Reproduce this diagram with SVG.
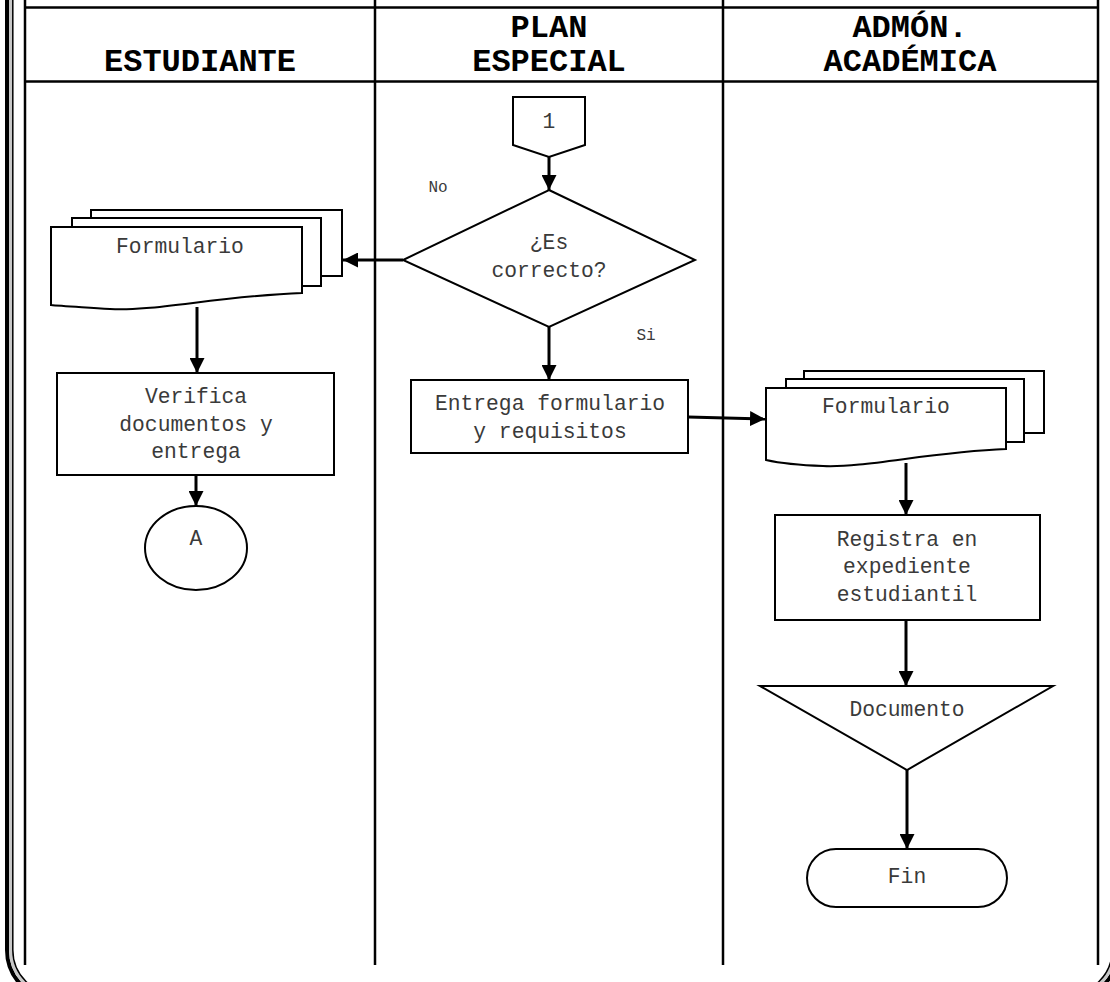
<svg xmlns="http://www.w3.org/2000/svg" width="1110" height="982" viewBox="0 0 1110 982">
  <style>
    .lane { stroke: #000; stroke-width: 2.5; fill: none; }
    .shape { stroke: #000; stroke-width: 2; fill: #fff; }
    .edge { stroke: #000; stroke-width: 3; fill: none; }
    .hdr { font-family: "Liberation Mono", "Courier New", monospace; font-weight: bold; font-size: 32px; fill: #000; text-anchor: middle; }
    .lbl { font-family: "Liberation Mono", "Courier New", monospace; font-size: 21.3px; fill: #3a3a3a; text-anchor: middle; }
    .small { font-family: "Liberation Mono", "Courier New", monospace; font-size: 16px; fill: #3a3a3a; text-anchor: middle; }
  </style>
  <defs>
    <marker id="arrow" viewBox="0 0 10 10" refX="10" refY="5" markerWidth="5" markerHeight="5" markerUnits="strokeWidth" orient="auto">
      <path d="M0,0 L10,5 L0,10 Z" fill="#000"/>
    </marker>
  </defs>

  <rect width="1110" height="982" fill="#fff"/>

  <!-- page frame: thick-thin rounded border -->
  <g id="frame" fill="none">
    <path d="M7,-20 V950 A50,50 0 0 0 57,1000 H1068 A50,50 0 0 0 1118,950 V-20" stroke="#000" stroke-width="4"/>
    <path d="M10.5,-20 V950 A46.5,46.5 0 0 0 57,996.5 H1068 A46.5,46.5 0 0 0 1114.5,950 V-20" stroke="#c8c8c8" stroke-width="3"/>
    <path d="M12.8,-20 V950 A44.2,44.2 0 0 0 57,994.2 H1068 A44.2,44.2 0 0 0 1112.2,950 V-20" stroke="#000" stroke-width="1.5"/>
  </g>

  <!-- swimlane grid -->
  <g id="lanes">
    <line class="lane" x1="25" y1="0" x2="25" y2="965"/>
    <line class="lane" x1="375" y1="0" x2="375" y2="965"/>
    <line class="lane" x1="723" y1="0" x2="723" y2="965"/>
    <line class="lane" x1="1098" y1="0" x2="1098" y2="965"/>
    <line class="lane" x1="25" y1="7.5" x2="1098" y2="7.5"/>
    <line class="lane" x1="25" y1="81.5" x2="1098" y2="81.5"/>
    <text class="hdr" x="200" y="71">ESTUDIANTE</text>
    <text class="hdr" x="549" y="37">PLAN</text>
    <text class="hdr" x="549" y="71">ESPECIAL</text>
    <text class="hdr" x="910" y="37">ADMÓN.</text>
    <text class="hdr" x="910" y="71">ACADÉMICA</text>
  </g>

  <!-- connectors -->
  <g id="connectors">
    <line class="edge" x1="549" y1="157" x2="549" y2="190" marker-end="url(#arrow)"/>
    <line class="edge" x1="403" y1="260" x2="343" y2="260" marker-end="url(#arrow)"/>
    <line class="edge" x1="549" y1="327" x2="549" y2="380" marker-end="url(#arrow)"/>
    <line class="edge" x1="688" y1="417" x2="765" y2="419" marker-end="url(#arrow)"/>
    <line class="edge" x1="197" y1="307" x2="197" y2="373" marker-end="url(#arrow)"/>
    <line class="edge" x1="196" y1="475" x2="196" y2="506" marker-end="url(#arrow)"/>
    <line class="edge" x1="906" y1="463" x2="906" y2="515" marker-end="url(#arrow)"/>
    <line class="edge" x1="906" y1="620" x2="906" y2="686" marker-end="url(#arrow)"/>
    <line class="edge" x1="907" y1="770" x2="907" y2="849" marker-end="url(#arrow)"/>
    <text class="small" x="438" y="192">No</text>
    <text class="small" x="646" y="340">Si</text>
  </g>

  <g id="n-connector-1">
    <path class="shape" d="M513,97 L585,97 L585,145 L549,157 L513,145 Z"/>
    <text class="lbl" x="549" y="128">1</text>
  </g>

  <g id="n-decision">
    <path class="shape" d="M549,190 L695,260 L549,327 L403,260 Z"/>
    <text class="lbl" x="549" y="249">¿Es</text>
    <text class="lbl" x="549" y="277">correcto?</text>
  </g>

  <g id="n-formulario-est">
    <path class="shape" d="M91,210 L342,210 L342,276 L321,276 L321,218 L91,218 Z"/>
    <path class="shape" d="M72,218 L321,218 L321,286 L302,286 L302,227 L72,227 Z"/>
    <path class="shape" d="M51,227 L302,227 L302,293 C220,296 150,312 110,309 C80,307 60,306 51,305 Z"/>
    <text class="lbl" x="180" y="253">Formulario</text>
  </g>

  <g id="n-verifica">
    <rect class="shape" x="57" y="373" width="277" height="102"/>
    <text class="lbl" x="196" y="403">Verifica</text>
    <text class="lbl" x="196" y="431">documentos y</text>
    <text class="lbl" x="196" y="458">entrega</text>
  </g>

  <g id="n-a">
    <ellipse class="shape" cx="196" cy="548" rx="51" ry="42"/>
    <text class="lbl" x="196" y="545">A</text>
  </g>

  <g id="n-entrega">
    <rect class="shape" x="411" y="380" width="277" height="73"/>
    <text class="lbl" x="550" y="410">Entrega formulario</text>
    <text class="lbl" x="550" y="438">y requisitos</text>
  </g>

  <g id="n-formulario-adm">
    <path class="shape" d="M804,371 L1044,371 L1044,433 L1024,433 L1024,379 L804,379 Z"/>
    <path class="shape" d="M786,379 L1024,379 L1024,442 L1006,442 L1006,388 L786,388 Z"/>
    <path class="shape" d="M766,388 L1006,388 L1006,449 C930,452 865,468 823,466 C795,465 775,462 766,460 Z"/>
    <text class="lbl" x="886" y="413">Formulario</text>
  </g>

  <g id="n-registra">
    <rect class="shape" x="775" y="515" width="265" height="105"/>
    <text class="lbl" x="907" y="546">Registra en</text>
    <text class="lbl" x="907" y="573">expediente</text>
    <text class="lbl" x="907" y="601">estudiantil</text>
  </g>

  <g id="n-documento">
    <path class="shape" d="M760,686 L1053,686 L907,770 Z"/>
    <text class="lbl" x="907" y="716">Documento</text>
  </g>

  <g id="n-fin">
    <rect class="shape" x="807" y="849" width="200" height="58" rx="29"/>
    <text class="lbl" x="907" y="883">Fin</text>
  </g>
</svg>
